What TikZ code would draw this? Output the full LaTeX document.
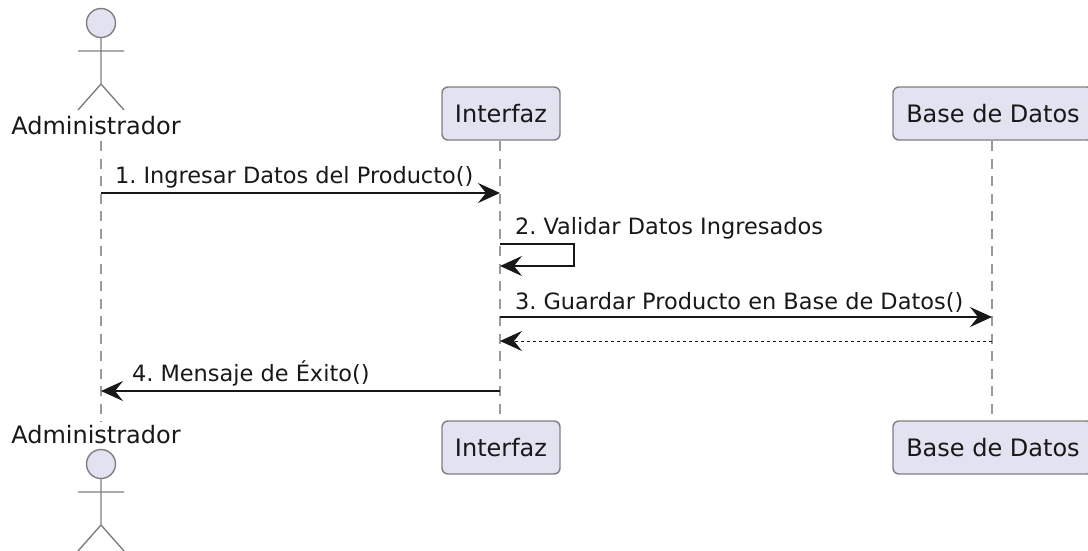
\documentclass[tikz,border=0pt]{standalone}
\usepackage{fontspec}
\setmainfont{DejaVu Sans}
\usetikzlibrary{arrows.meta,positioning}
\definecolor{ink}{HTML}{181818}
\definecolor{partfill}{HTML}{E2E2F0}
\definecolor{edge}{HTML}{7F7F7F}
\definecolor{lifegray}{HTML}{9A9A9A}
\tikzset{
  x=1pt,y=-1pt,
  label text/.style={inner sep=0pt,outer sep=0pt,font=\fontsize{22.45}{26}\selectfont\frenchspacing,text=ink,anchor=base west},
  actor text/.style={inner sep=0pt,outer sep=0pt,font=\fontsize{24}{28}\selectfont,text=ink,anchor=base},
  partbox/.style={draw=edge,fill=partfill,line width=1.4pt,rounded corners=6pt,minimum height=53pt,inner sep=0pt,font=\fontsize{24}{28}\selectfont,text=ink,anchor=center},
  lifeline/.style={draw=lifegray,line width=1.4pt,dash pattern=on 10pt off 7.5pt},
  msg/.style={draw=ink,line width=1.7pt,-{Stealth[length=22pt,width=20pt,inset=8pt,fill=ink]}},
  reply/.style={draw=ink,line width=1pt,dash pattern=on 3pt off 3pt,-{Stealth[length=22pt,width=20pt,inset=8pt,fill=ink]}},
  stick/.style={draw=edge,line width=1.4pt},
  headshape/.style={circle,draw=edge,fill=partfill,line width=1.4pt,minimum size=29pt,inner sep=0pt},
}
\newcommand{\stickman}[2]{%
  \draw[stick] (#1,#2) -- (#1,#2+47) (#1-23,#2+14) -- (#1+23,#2+14)
    (#1-23,#2+73) -- (#1,#2+47) -- (#1+23,#2+73);
}
\begin{document}
\begin{tikzpicture}
\useasboundingbox (0,0) rectangle (1088,550);
\clip (0,0) rectangle (1088,550);
% lifeline ends
\node[partbox,minimum width=118pt] (itop) at (501,113.5) {Interfaz};
\node[partbox,minimum width=118pt] (ibot) at (501,447.5) {Interfaz};
\node[partbox,minimum width=200pt] (btop) at (993,113.5) {\phantom{Base de Datos}};
\node[partbox,minimum width=200pt] (bbot) at (993,447.5) {\phantom{Base de Datos}};
\node[actor text] (btoptext) at (993,122) {Base de Datos};
\node[actor text] (bbottext) at (993,456) {Base de Datos};
\coordinate (atop) at (101,141);
\coordinate (abot) at (101,422);
\coordinate (ltop) at (500,141);
\coordinate (lbot) at (500,421);
\coordinate (rtop) at (992,141);
\coordinate (rbot) at (992,421);
\draw[lifeline] (atop) -- (abot);
\draw[lifeline] (ltop) -- (lbot);
\draw[lifeline] (rtop) -- (rbot);
% actors
\stickman{101}{37}
\node[headshape] (ahead1) at (101,23) {};
\node[actor text] (aname1) at (96,134) {Administrador};
\node[actor text] (aname2) at (96,443) {Administrador};
\stickman{101}{478}
\node[headshape] (ahead2) at (101,464) {};
% messages
\coordinate (m1a) at (101,193); \coordinate (m1b) at (500,193);
\coordinate (m2a) at (500,244); \coordinate (m2b) at (574,244);
\coordinate (m2c) at (574,266); \coordinate (m2d) at (500,266);
\coordinate (m3a) at (500,317); \coordinate (m3b) at (992,317);
\coordinate (m5a) at (992,341); \coordinate (m5b) at (500,341);
\coordinate (m4a) at (500,391); \coordinate (m4b) at (101,391);
\draw[msg] (m1a) -- (m1b);
\draw[msg] (m2a) -- (m2b) -- (m2c) -- (m2d);
\draw[msg] (m3a) -- (m3b);
\draw[reply] (m5a) -- (m5b);
\draw[msg] (m4a) -- (m4b);
\node[label text] (t1) at (115,183) {1. Ingresar Datos del Producto()};
\node[label text] (t2) at (515,234) {2. Validar Datos Ingresados};
\node[label text] (t3) at (515,309) {3. Guardar Producto en Base de Datos()};
\node[label text] (t4) at (132,381) {4. Mensaje de Éxito()};
\end{tikzpicture}
\end{document}
